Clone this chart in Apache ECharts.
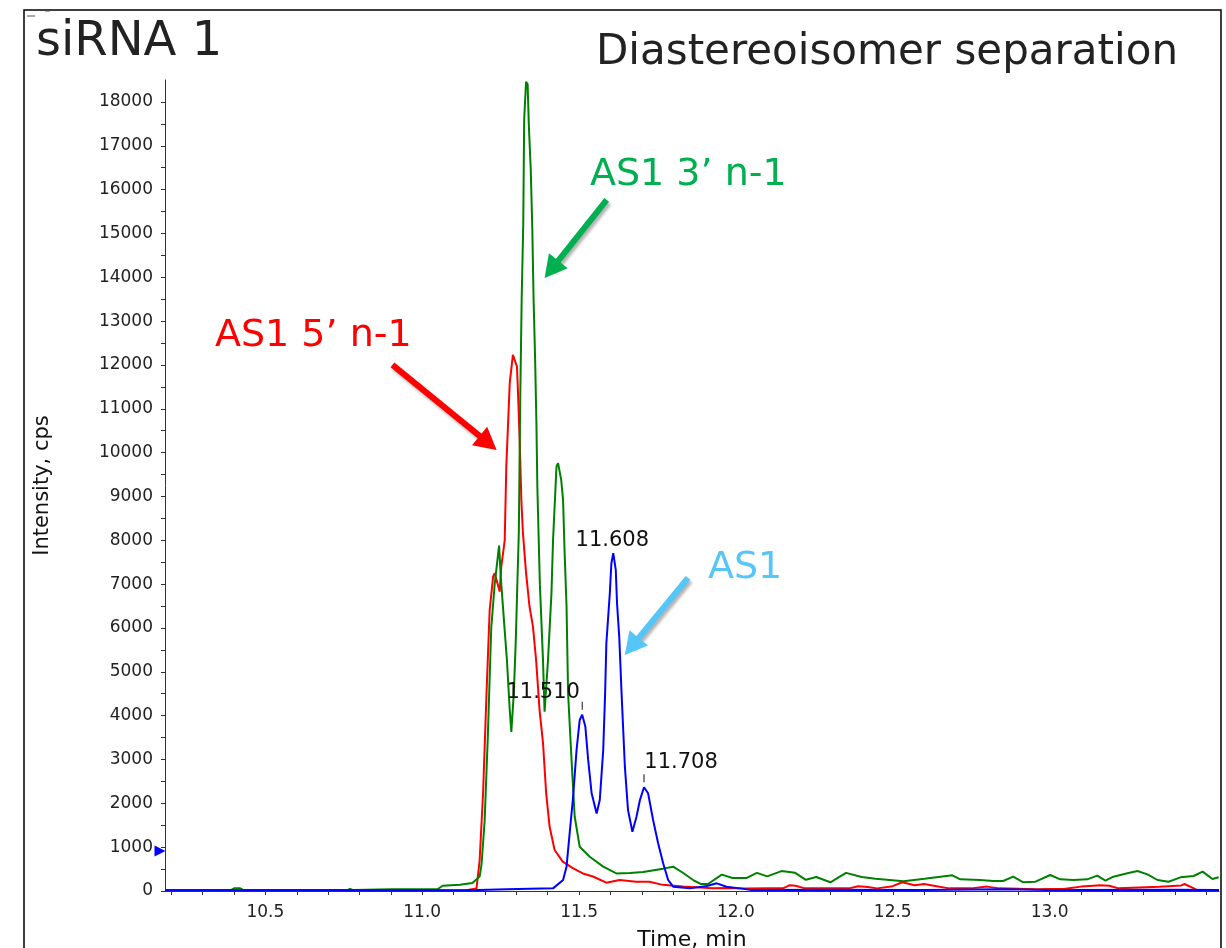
<!DOCTYPE html>
<html>
<head>
<meta charset="utf-8">
<title>siRNA 1 - Diastereoisomer separation</title>
<script src="https://cdn.jsdelivr.net/npm/echarts@6/dist/echarts.min.js"></script>
<style>
  html, body { margin: 0; padding: 0; background: #fff; }
  #chart { width: 1226px; height: 948px; }
</style>
</head>
<body>
<div id="chart"></div>
<script>
// XIC traces (time in min, intensity in cps)

// AS1 3' n-1 (green)
const greenTime = [10.18, 10.39, 10.40, 10.42, 10.43, 10.76, 10.77, 10.78, 10.90, 11.05, 11.065, 11.12, 11.16,
  11.183, 11.189, 11.199, 11.209, 11.220, 11.231, 11.245, 11.251, 11.262, 11.270, 11.279, 11.284, 11.292, 11.298,
  11.303, 11.308, 11.312, 11.317, 11.322, 11.325, 11.331, 11.336, 11.340, 11.346, 11.351, 11.355, 11.360, 11.364,
  11.367, 11.375, 11.385, 11.390, 11.401, 11.412, 11.417, 11.428, 11.433, 11.443, 11.449, 11.454, 11.460, 11.465,
  11.476, 11.486, 11.502, 11.534, 11.577, 11.619, 11.662, 11.704, 11.768, 11.800, 11.832, 11.866, 11.889, 11.911,
  11.955, 11.989, 12.033, 12.067, 12.100, 12.145, 12.189, 12.223, 12.256, 12.301, 12.351, 12.401, 12.445, 12.535,
  12.601, 12.690, 12.715, 12.779, 12.820, 12.852, 12.884, 12.916, 12.955, 13.002, 13.034, 13.076, 13.120, 13.152,
  13.178, 13.203, 13.248, 13.280, 13.312, 13.344, 13.379, 13.417, 13.459, 13.488, 13.519, 13.539];
const greenValue = [20, 20, 60, 60, 20, 20, 50, 20, 40, 45, 120, 140, 180,
  330, 600, 1600, 3500, 6000, 7000, 7880, 7100, 6030, 5270, 4130, 3630, 4520, 5660,
  6940, 8200, 11000, 13500, 15200, 17600, 18460, 18400, 17440, 16450, 15080, 13500, 12100, 10680,
  9220, 7000, 5270, 4090, 5270, 6800, 8000, 9680, 9760, 9380, 8920, 7700, 6500, 4510,
  2990, 1700, 1010, 780, 555, 400, 410, 433, 510, 555, 410, 239, 159, 159,
  374, 295, 295, 414, 334, 454, 414, 255, 318, 199, 414, 318, 279, 223,
  279, 358, 266, 251, 228, 228, 327, 198, 212, 365, 266, 251, 266, 350,
  235, 327, 403, 456, 380, 251, 212, 312, 342, 441, 274, 312];

// AS1 5' n-1 (red)
const redTime = [10.18, 11.14, 11.173, 11.183, 11.194, 11.205, 11.215, 11.226, 11.231, 11.247, 11.252, 11.263,
  11.268, 11.279, 11.289, 11.295, 11.302, 11.305, 11.311, 11.316, 11.321, 11.331, 11.342, 11.353, 11.363, 11.374,
  11.385, 11.395, 11.406, 11.422, 11.448, 11.480, 11.512, 11.544, 11.587, 11.629, 11.682, 11.724, 11.767, 11.831,
  11.927, 11.97, 12.03, 12.10, 12.15, 12.17, 12.19, 12.22, 12.30, 12.36, 12.39, 12.42, 12.45, 12.50, 12.53, 12.57,
  12.60, 12.64, 12.68, 12.75, 12.80, 12.84, 12.90, 12.96, 13.05, 13.10, 13.14, 13.16, 13.19, 13.22, 13.35, 13.42,
  13.43, 13.46, 13.47, 13.54];
const redValue = [10, 15, 60, 700, 2240, 4520, 6410, 7170, 7250, 6830, 7400, 8000,
  9680, 11590, 12230, 12270, 11960, 11430, 10220, 8920, 8170, 7255, 6490, 6030, 5270, 4130,
  3380, 2240, 1470, 935, 670, 520, 400, 330, 190, 250, 210, 210, 140, 100,
  60, 70, 55, 60, 60, 130, 120, 60, 60, 60, 110, 90, 60, 110, 200, 130,
  160, 110, 60, 60, 100, 60, 50, 40, 50, 100, 121, 130, 120, 60, 98, 128,
  160, 60, 20, 20];

// AS1 (blue)
const blueTime = [10.18, 11.15, 11.27, 11.417, 11.449, 11.460, 11.470, 11.481, 11.492, 11.502, 11.510, 11.520,
  11.529, 11.540, 11.556, 11.566, 11.577, 11.583, 11.587, 11.598, 11.603, 11.609, 11.617, 11.621, 11.628, 11.632,
  11.635, 11.646, 11.656, 11.670, 11.683, 11.694, 11.707, 11.720, 11.736, 11.752, 11.768, 11.784, 11.800, 11.853,
  11.907, 11.939, 11.970, 12.013, 12.05, 12.30, 12.60, 12.85, 13.00, 13.40, 13.54];
const blueValue = [15, 15, 40, 60, 250, 555, 1320, 2150, 3220, 3900, 4020, 3750,
  2990, 2230, 1770, 2076, 3217, 4500, 5651, 6792, 7476, 7704, 7324, 6564, 5802, 5118,
  4586, 2836, 1848, 1353, 1695, 2076, 2366, 2229, 1620, 1088, 632, 251, 98, 60,
  114, 175, 98, 60, 20, 30, 20, 40, 25, 30, 20];

// labelled AS1 peaks
const peakLabels = ['11.510', '11.608', '11.708'];
const peakTimes = [11.510, 11.609, 11.707];
const peakHeights = [4020, 7704, 2366];

// axis ticks
const xTicks = [10.2, 10.3, 10.4, 10.5, 10.6, 10.7, 10.8, 10.9, 11.0, 11.1, 11.2, 11.3, 11.4, 11.5, 11.6, 11.7,
  11.8, 11.9, 12.0, 12.1, 12.2, 12.3, 12.4, 12.5, 12.6, 12.7, 12.8, 12.9, 13.0, 13.1, 13.2, 13.3, 13.4, 13.5];
const xLabels = [10.5, 11.0, 11.5, 12.0, 12.5, 13.0];
const yTicks = [0, 500, 1000, 1500, 2000, 2500, 3000, 3500, 4000, 4500, 5000, 5500, 6000, 6500, 7000, 7500,
  8000, 8500, 9000, 9500, 10000, 10500, 11000, 11500, 12000, 12500, 13000, 13500, 14000, 14500, 15000,
  15500, 16000, 16500, 17000, 17500, 18000];
const yLabels = [0, 1000, 2000, 3000, 4000, 5000, 6000, 7000, 8000, 9000, 10000, 11000, 12000, 13000, 14000,
  15000, 16000, 17000, 18000];

// annotation arrows [tail, head] in data units
const greenArrow = [[11.588, 15766], [11.412, 14182]];
const redArrow = [[10.905, 12001], [11.210, 10221]];
const blueArrow = [[11.847, 7141], [11.668, 5578]];

const FONT = 'DejaVu Sans';

function pairs(xs, ys) {
  return xs.map((x, i) => [x, ys[i]]);
}

function arrowLine(pts, color) {
  return {
    silent: true,
    symbol: ['none', 'triangle'],
    symbolSize: [24, 22],
    label: { show: false },
    emphasis: { disabled: true },
    lineStyle: {
      color: color, width: 6, type: 'solid',
      shadowColor: 'rgba(0,0,0,0.3)', shadowBlur: 3, shadowOffsetX: 2, shadowOffsetY: 3
    },
    itemStyle: { color: color },
    data: [[{ coord: pts[0] }, { coord: pts[1] }]]
  };
}

const chart = echarts.init(document.getElementById('chart'), null, { renderer: 'canvas' });

const labelOffsets = [[-39, 5], [-1, 15], [37, 3]];
const peakPoints = peakLabels.map((name, i) => ({
  name: name,
  coord: [peakTimes[i], peakHeights[i]],
  itemStyle: { color: i === 1 ? 'transparent' : '#111' },
  label: { offset: labelOffsets[i] }
}));
// little blue marker on the y axis
peakPoints.push({
  name: 'marker',
  coord: [10.18, 912],
  symbol: 'triangle',
  symbolRotate: -90,
  symbolSize: [11, 11],
  symbolOffset: [-5, 0],
  itemStyle: { color: '#0000ff' },
  label: { show: false }
});

const option = {
  animation: false,
  backgroundColor: '#ffffff',
  textStyle: { fontFamily: FONT },
  grid: { left: 165, right: 7, top: 80, bottom: 57, containLabel: false, outerBoundsMode: 'none' },
  xAxis: {
    type: 'value',
    min: 10.18,
    max: 13.54,
    name: 'Time, min',
    nameLocation: 'middle',
    nameGap: 38,
    nameTextStyle: { fontSize: 22, color: '#111', fontFamily: FONT },
    axisLine: { show: true, onZero: false, lineStyle: { color: '#333', width: 1 } },
    axisTick: { show: true, customValues: xTicks, length: 4, lineStyle: { color: '#333' } },
    axisLabel: {
      customValues: xLabels, margin: 13, fontSize: 17, color: '#222', fontFamily: FONT,
      formatter: v => v.toFixed(1)
    },
    splitLine: { show: false }
  },
  yAxis: {
    type: 'value',
    min: 0,
    max: 18500,
    name: 'Intensity, cps',
    nameLocation: 'middle',
    nameGap: 112,
    nameTextStyle: { fontSize: 21, color: '#111', fontFamily: FONT },
    axisLine: { show: true, lineStyle: { color: '#333', width: 1 } },
    axisTick: { show: true, customValues: yTicks, length: 4, lineStyle: { color: '#333' } },
    axisLabel: {
      customValues: yLabels, margin: 12, fontSize: 17, color: '#222', fontFamily: FONT,
      formatter: v => String(v)
    },
    splitLine: { show: false }
  },
  series: [
    {
      name: "AS1 5' n-1",
      type: 'line',
      data: pairs(redTime, redValue),
      showSymbol: false,
      lineStyle: { color: '#ff0000', width: 2 },
      itemStyle: { color: '#ff0000' },
      markLine: arrowLine(redArrow, '#ff0000')
    },
    {
      name: "AS1 3' n-1",
      type: 'line',
      data: pairs(greenTime, greenValue),
      showSymbol: false,
      lineStyle: { color: '#008000', width: 2 },
      itemStyle: { color: '#008000' },
      markLine: arrowLine(greenArrow, '#00b050')
    },
    {
      name: 'AS1',
      type: 'line',
      data: pairs(blueTime, blueValue),
      showSymbol: false,
      lineStyle: { color: '#0000ff', width: 2 },
      itemStyle: { color: '#0000ff' },
      markLine: arrowLine(blueArrow, '#55c6f7'),
      markPoint: {
        silent: true,
        symbol: 'rect',
        symbolSize: [1, 8],
        symbolOffset: [0, -9],
        label: {
          show: true, position: 'top', distance: 4, fontSize: 21, color: '#111', fontFamily: FONT,
          formatter: p => p.name
        },
        data: peakPoints
      }
    }
  ],
  graphic: [
    { type: 'rect', shape: { x: 24, y: 10, width: 1197, height: 950 }, style: { fill: 'none', stroke: '#000', lineWidth: 1.5 }, silent: true },
    { type: 'line', shape: { x1: 27, y1: 16, x2: 35, y2: 16 }, style: { stroke: '#555', lineWidth: 1 } },
    { type: 'line', shape: { x1: 45, y1: 11, x2: 50, y2: 11 }, style: { stroke: '#555', lineWidth: 1 } },
    { type: 'text', x: 36, y: 43, style: { text: 'siRNA 1', font: '48px "DejaVu Sans"', fill: '#222', verticalAlign: 'middle' } },
    { type: 'text', x: 596, y: 53, style: { text: 'Diastereoisomer separation', font: '42px "DejaVu Sans"', fill: '#222', verticalAlign: 'middle' } },
    { type: 'text', x: 590, y: 175, style: { text: 'AS1 3\u2019 n-1', font: '38px "DejaVu Sans"', fill: '#00b050', verticalAlign: 'middle' } },
    { type: 'text', x: 215, y: 336, style: { text: 'AS1 5\u2019 n-1', font: '38px "DejaVu Sans"', fill: '#ff0000', verticalAlign: 'middle' } },
    { type: 'text', x: 708, y: 568, style: { text: 'AS1', font: '38px "DejaVu Sans"', fill: '#55c6f7', verticalAlign: 'middle' } }
  ]
};

chart.setOption(option);
</script>
</body>
</html>
